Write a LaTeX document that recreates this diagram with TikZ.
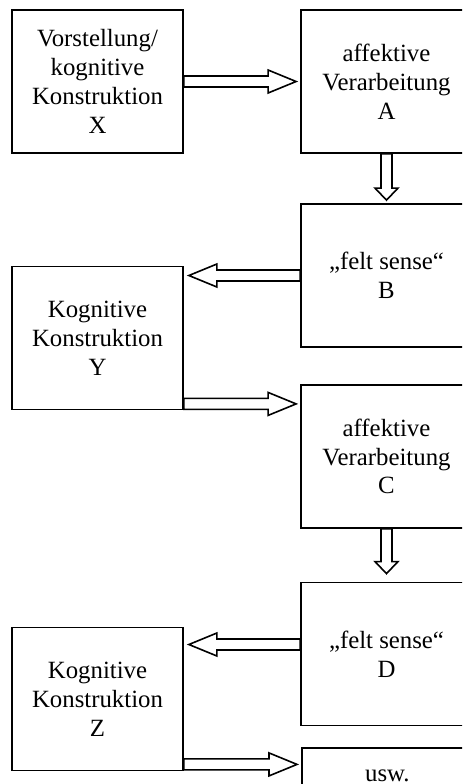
\documentclass[tikz,border=0pt]{standalone}
\usepackage{fontspec}
\setmainfont{Liberation Serif}
\usetikzlibrary{calc}

\begin{document}
\begin{tikzpicture}[x=0.5pt,y=-0.5pt,line width=0.9pt,
    kasten/.style={draw,minimum width=85.5pt,minimum height=71.5pt,inner sep=0pt,
      align=center,font=\fontsize{12.4}{14.4}\selectfont},
    pfeil/.style={line width=0.8pt,to path={
      ($(\tikztotarget)!#1!(\tikztostart)$) coordinate (basis)
      ($(\tikztostart)!2.75pt!90:(\tikztotarget)$)
      -- ($(basis)!2.75pt!90:(\tikztotarget)$)
      -- ($(basis)!5.75pt!90:(\tikztotarget)$)
      -- (\tikztotarget)
      -- ($(basis)!5.75pt!-90:(\tikztotarget)$)
      -- ($(basis)!2.75pt!-90:(\tikztotarget)$)
      -- ($(\tikztostart)!2.75pt!-90:(\tikztotarget)$) -- cycle}},
    pfeil/.default=14pt]
  \path[use as bounding box,clip] (0,0) rectangle (462,784);

  % linke Spalte
  \node[kasten] (X) at (97.5,81.5) {Vorstellung/\\kognitive\\Konstruktion\\X};
  \node[kasten] (Y) at (97.5,338) {Kognitive\\Konstruktion\\Y};
  \node[kasten] (Z) at (97.5,699) {Kognitive\\Konstruktion\\Z};
  % rechte Spalte
  \node[kasten] (A) at (386.5,81.5) {affektive\\Verarbeitung\\A};
  \node[kasten] (B) at (386.5,275.5) {„felt sense“\\B};
  \node[kasten] (C) at (386.5,456.5) {affektive\\Verarbeitung\\C};
  \node[kasten] (D) at (386.5,654) {„felt sense“\\D};
  \node[kasten,anchor=north west,minimum height=28pt] (usw) at (301,747) {usw.};

  % Pfeile
  \draw[pfeil] (X.east) to ($(A.west)+(-4,0)$);
  \draw[pfeil=6pt] (A.south) to ($(B.north)+(0,-3)$);
  \draw[pfeil] (B.west) to ($(Y.east|-B.west)+(5,0)$);
  \draw[pfeil] ($(Y.south east)+(0,-6.5)$) to ($(C.west|-Y.south east)+(-4,-6.5)$);
  \draw[pfeil=6pt] (C.south) to ($(D.north)+(0,-8)$);
  \draw[pfeil] ($(D.west)+(0,-9.5)$) to ($(Z.east|-D.west)+(5,-9.5)$);
  \draw[pfeil] ($(Z.south east)+(0,-7)$) to ($(usw.west|-Z.south east)+(-4,-7)$);
\end{tikzpicture}
\end{document}
